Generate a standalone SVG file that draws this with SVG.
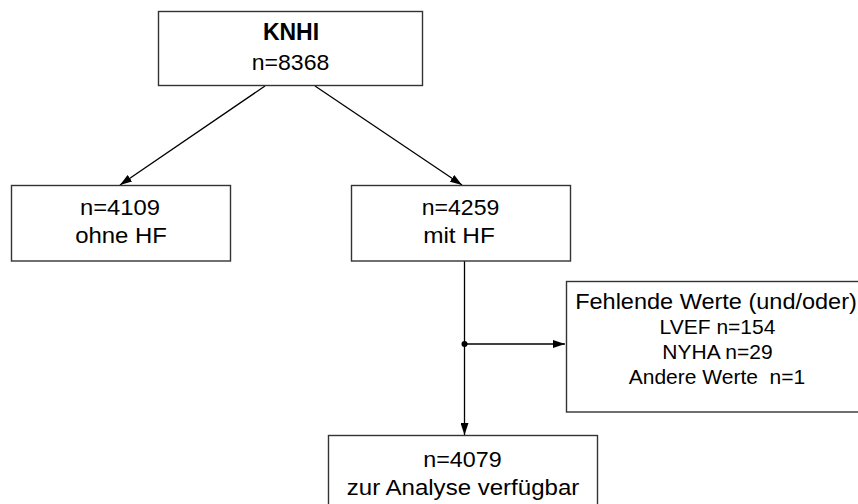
<svg xmlns="http://www.w3.org/2000/svg" width="858" height="504" viewBox="0 0 858 504">
<defs>
<style>
.box{fill:#fff;stroke:#333;stroke-width:1.4}
.t{font-family:"Liberation Sans",Arial,sans-serif;font-size:22px;fill:#000;text-anchor:middle}
.s{font-family:"Liberation Sans",Arial,sans-serif;font-size:21px;fill:#000;text-anchor:middle;white-space:pre}
.b{font-weight:bold;font-size:23px}
.ln{stroke:#000;stroke-width:1.3;fill:none}
</style>
<marker id="ah" markerWidth="12" markerHeight="8" refX="12" refY="4" orient="auto" markerUnits="userSpaceOnUse">
<path d="M0,0 L12,4 L0,8 Z" fill="#000"/>
</marker>
</defs>
<rect width="858" height="504" fill="#fff"/>
<g id="connectors">
<line class="ln" x1="265" y1="86" x2="120" y2="185" marker-end="url(#ah)"/>
<line class="ln" x1="315" y1="86" x2="462" y2="185" marker-end="url(#ah)"/>
<line class="ln" x1="464.5" y1="261" x2="464.5" y2="435" marker-end="url(#ah)"/>
<line class="ln" x1="464.5" y1="344" x2="565" y2="344" marker-end="url(#ah)"/>
<circle cx="464.5" cy="344" r="3" fill="#000"/>
</g>
<g id="knhi">
<rect class="box" x="158.5" y="11.5" width="264" height="74"/>
<text class="t b" x="291" y="40">KNHI</text>
<text class="t" x="290.5" y="69.5" textLength="77.6" lengthAdjust="spacingAndGlyphs">n=8368</text>
</g>
<g id="ohneHF">
<rect class="box" x="11.5" y="185.5" width="219" height="75.5"/>
<text class="t" x="120" y="215" textLength="80" lengthAdjust="spacingAndGlyphs">n=4109</text>
<text class="t" x="121" y="243" textLength="91.7" lengthAdjust="spacingAndGlyphs">ohne HF</text>
</g>
<g id="mitHF">
<rect class="box" x="351.5" y="185.5" width="219" height="75.5"/>
<text class="t" x="460.5" y="215" textLength="77.6" lengthAdjust="spacingAndGlyphs">n=4259</text>
<text class="t" x="459" y="243" textLength="71.7" lengthAdjust="spacingAndGlyphs">mit HF</text>
</g>
<g id="fehlende">
<rect class="box" x="566.5" y="281.5" width="310" height="130.5"/>
<text class="t" x="716" y="309" textLength="281.7" lengthAdjust="spacingAndGlyphs">Fehlende Werte (und/oder)</text>
<text class="s" x="717.5" y="334">LVEF n=154</text>
<text class="s" x="717.5" y="359">NYHA n=29</text>
<text class="s" x="717" y="384" xml:space="preserve">Andere Werte  n=1</text>
</g>
<g id="analyse">
<rect class="box" x="328.5" y="435.5" width="269" height="80"/>
<text class="t" x="462.5" y="466.5" textLength="78.4" lengthAdjust="spacingAndGlyphs">n=4079</text>
<text class="t" x="463" y="495" textLength="232.5" lengthAdjust="spacingAndGlyphs">zur Analyse verfügbar</text>
</g>
</svg>
